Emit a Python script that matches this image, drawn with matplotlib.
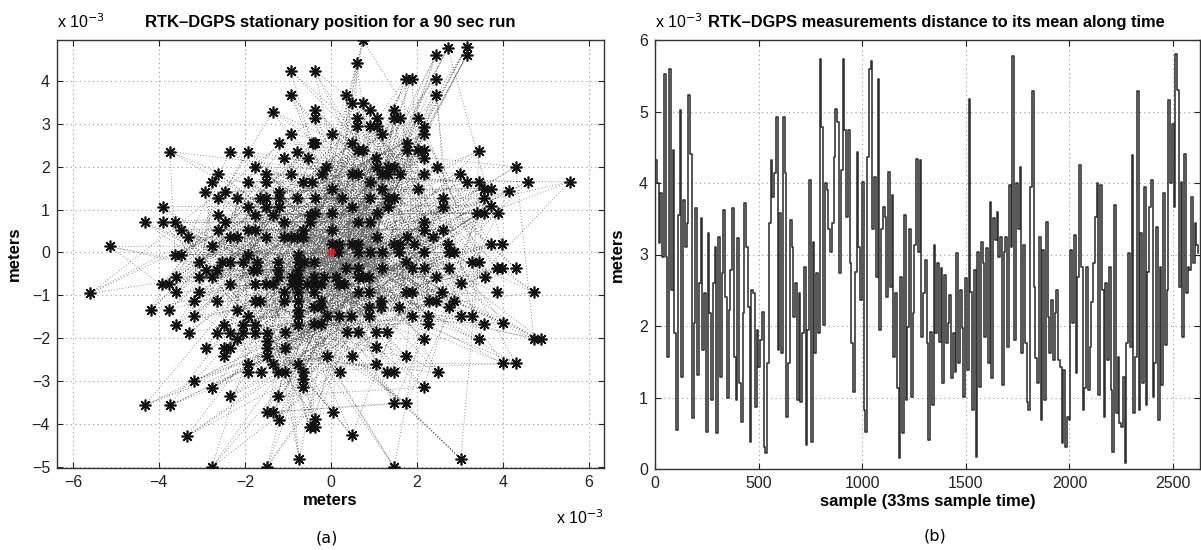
import numpy as np
import matplotlib
matplotlib.use("Agg")
import matplotlib.pyplot as plt
from math import gcd

plt.rcParams['font.family'] = ['Liberation Sans', 'DejaVu Sans']

# ---------------- data (a): stationary positions, in units of 1e-3 m ----------------
star_x = [
    -0.93, -0.37, -0.93, -0.37, -0.37, -1.35, -0.93, -1.21, -0.42, -3.74, -2.35, -1.93, -0.79, -1.09, -0.53,
    -1.77, -0.93, -1.51, -2.63, -2.77, -1.93, -1.51, -0.65, -0.44, -2.93, -2.47, -1.21, -2.63, -2.19, -1.65,
    -1.51, -1.21, -0.79, -0.37, -3.91, -1.93, -1.51, -1.21, -2.63, -1.77, -1.35, -0.49, -4.33, -3.91, -3.63,
    -2.47, -1.09, -3.49, -2.63, -1.93, -1.77, -0.65, -3.33, -2.35, -2.19, -1.51, -1.09, -0.93, -0.79, -0.65,
    -5.14,
    0.74, 2.72, 3.16, 3.16, 2.44, 0.60, 1.74, 1.88, 2.44, 2.44, 0.35, 0.49, 0.74, 0.91, 1.47,
    0.60, 1.07, 1.47, 1.60, 2.02, 0.60, 0.91, 1.07, 2.16, 2.16, 0.03, 1.19, -0.37, 0.49, 1.77,
    0.63, 0.74, 1.77, 2.02, 2.16, 3.44, 1.05, 2.16, -0.12, 1.07, 1.33, 1.47, 2.47, 4.30, -0.21,
    0.49, 0.63, 1.19, 1.33, 1.60, 2.16, 3.00, 3.16, 3.44, 4.58, 5.56, 0.91, 0.03, 1.19, 2.02,
    3.56, 3.72, 4.14, 0.26, 0.91, 1.33, 1.47, 2.60, 3.56, 2.60, 0.49, 1.33, 3.72, 3.40, 3.56,
    3.88, -0.37, 0.03, 1.07, 0.63, 0.91, 2.16, -0.49, 2.16, 2.60, 0.03, 2.37, 1.07, 1.77, 0.03,
    0.19, 0.49, 0.63, 1.47, 1.60, 1.93, 2.72, 3.72, 3.98,
    0.16, 0.63, 0.91, 1.19, 1.58, 2.16, 2.74, 2.86, 3.28, 3.44, 1.74, 3.86, 3.98, 4.30, 1.88,
    2.16, 2.74, 0.63, 1.19, 2.44, 3.02, 3.58, 3.86, 4.72, 1.74, 1.88, 2.58, 2.28, 2.44, 2.86,
    2.74, 1.58, 3.02, 3.28, 1.88, 2.26, 2.26, 3.56, 4.00, 2.16, 3.44, 4.72, 4.88, 1.30, 1.05,
    0.63, 0.37, 1.05, 1.74, 0.49, -0.09, 1.05, 0.21, 1.30, 1.47, 2.49, 4.00, 4.30, 2.16, 1.47,
    1.74, 0.05, -0.37, -0.49, -0.37, 0.49, 3.02, 1.47, -0.74,
    -0.63, -0.40, -0.40, -0.16, -0.56, -0.40, -0.23, 0.19, 0.30, -0.40, -0.23, -0.40, -0.23, -0.09, 0.19,
    0.47, -0.40, -0.23, 0.88, 0.88, 1.16, 1.16, 0.88, 0.63, 0.12, 0.35, 0.63, 0.74, 0.88,
    -5.60, -4.19, -3.77, -3.93, -3.77, -3.63, -3.49, -3.60, -3.60, -3.60, -3.30, -3.19, -3.19, -3.07, -3.07,
    -3.07, -2.91, -2.77, -2.77, -2.91, -2.65, -2.65, -2.65, -2.49, -2.49, -2.49, -2.35, -2.53, -2.35, -2.35,
    -2.35, -2.19, -2.19, -2.05, -2.05, -2.05, -1.93, -1.93, -1.81, -1.72, -1.72, -1.77, -1.51, -1.35, -1.77,
    -1.65, -1.77, -1.77, -1.93, -1.93, -1.63, -1.49, -1.49, -1.49, -1.49, -1.35, -1.23, -1.23, -1.49, -1.35,
    -1.21, -1.07, -1.07, -1.23, -1.23, -1.23, -1.09, -1.09, -0.91, -0.91, -0.77, -0.77, -0.77, -0.77, -0.77,
    -0.77, -0.77, -0.77, -0.77, -0.77, -0.77, -0.65, -0.65, -0.65, -2.77, -1.49, -3.35, -4.33, -3.74, -3.19,
    -2.77, -2.35, -1.07,
]
star_y = [
    4.23, 4.23, 3.67, 3.33, 3.14, 3.28, 2.77, 2.56, 2.56, 2.35, 2.35, 2.35, 2.35, 2.19, 2.19,
    2.00, 1.84, 1.84, 1.84, 1.65, 1.65, 1.65, 1.65, 1.65, 1.42, 1.42, 1.42, 1.26, 1.26, 1.26,
    1.26, 1.26, 1.26, 1.26, 1.07, 1.07, 1.07, 1.07, 0.88, 0.88, 0.88, 0.88, 0.70, 0.70, 0.70,
    0.70, 0.70, 0.53, 0.53, 0.53, 0.53, 0.53, 0.35, 0.35, 0.35, 0.35, 0.35, 0.35, 0.35, 0.35,
    0.14,
    4.95, 4.77, 4.79, 4.60, 4.60, 4.42, 4.05, 4.05, 4.05, 3.67, 3.67, 3.49, 3.49, 3.33, 3.33,
    3.14, 3.14, 3.14, 3.14, 3.14, 2.95, 2.95, 2.95, 2.93, 2.77, 2.77, 2.77, 2.56, 2.56, 2.56,
    2.38, 2.38, 2.38, 2.38, 2.38, 2.37, 2.19, 2.19, 2.00, 2.00, 2.00, 2.00, 2.00, 2.00, 1.84,
    1.84, 1.84, 1.84, 1.84, 1.84, 1.84, 1.84, 1.65, 1.65, 1.65, 1.65, 1.65, 1.49, 1.49, 1.49,
    1.49, 1.49, 1.44, 1.26, 1.26, 1.26, 1.26, 1.26, 1.26, 1.07, 1.07, 1.07, 1.09, 0.91, 0.91,
    0.91, 0.91, 0.91, 0.91, 0.72, 0.72, 0.72, 0.72, 0.53, 0.53, 0.53, 0.37, 0.37, 0.37, 0.19,
    0.19, 0.19, 0.19, 0.19, 0.19, 0.19, 0.19, 0.19, 0.19,
    0.00, 0.00, 0.00, 0.00, 0.00, 0.00, 0.00, 0.00, -0.21, -0.21, -0.21, -0.37, -0.37, -0.37, -0.37,
    -0.37, -0.37, -0.37, -0.37, -0.56, -0.72, -0.56, -0.93, -0.93, -0.93, -0.93, -0.93, -1.12, -1.12, -1.12,
    -1.28, -1.28, -1.49, -1.49, -1.49, -1.49, -1.67, -1.67, -1.65, -2.02, -2.02, -2.02, -2.02, -1.86, -1.86,
    -1.86, -1.86, -2.21, -2.42, -2.42, -2.42, -2.60, -2.79, -2.79, -2.79, -2.79, -2.58, -2.58, -3.14, -3.51,
    -3.51, -3.72, -3.88, -4.07, -4.07, -4.26, -4.81, -5.00, -4.81,
    -0.21, -0.21, -0.56, -0.56, -0.74, -0.74, -0.74, -0.74, -0.74, -0.93, -1.14, -1.28, -1.28, -1.49, -1.49,
    -1.49, -1.67, -1.67, -1.49, -1.28, -1.14, -1.28, -0.93, -0.93, -0.56, -0.37, -0.56, -0.56, -0.56,
    -0.95, -1.33, -1.33, -0.74, -0.74, -0.05, -0.05, -0.58, -0.93, -1.70, -1.88, -1.14, -1.49, -0.21, -0.58,
    -0.93, -0.40, 0.16, -0.58, -2.23, -0.40, -1.14, -1.88, -1.70, -2.23, -2.40, -2.23, -0.21, -0.21, -0.74,
    -1.88, -1.33, -2.02, -0.21, -1.88, -1.70, -0.05, -1.49, -0.40, -0.21, -0.40, -0.74, -0.74, -0.74, -1.14,
    -1.14, -1.70, -1.88, -2.60, -2.79, -2.79, -1.88, -2.05, -2.23, -2.40, -2.60, -2.79, -3.35, -3.72, -3.72,
    -3.90, -2.79, -2.23, -0.21, -0.40, -0.58, -0.93, -1.14, -0.58, -0.74, -0.05, -0.21, -0.40, -0.58, -0.74,
    -0.93, -1.14, -1.33, -1.49, -1.70, -2.60, -2.79, -2.95, -3.14, -5.00, -5.00, -4.28, -3.56, -3.56, -3.00,
    -3.16, -3.35, -1.86,
]
mean_x = [0.0]
mean_y = [0.0]

# ---------------- data (b): distance to the mean, in units of 1e-3 m ----------------
dist_part1 = [
    4.32, 4.00, 3.16, 3.86, 2.97, 5.53, 2.97, 1.57, 5.60, 2.50, 4.46, 1.90, 0.55, 3.55, 5.02, 1.29,
    3.76, 3.11, 3.44, 5.23, 4.41, 0.71, 2.04, 3.65, 1.31, 2.60, 3.51, 1.66, 2.46, 0.52, 3.30, 2.18,
    0.97, 2.60, 3.11, 0.50, 3.25, 1.29, 2.74, 3.62, 2.41, 0.99, 2.22, 2.78, 3.65, 1.57, 0.97, 3.23,
    1.20, 0.66, 2.18, 3.72, 3.11, 2.27, 0.38, 2.50, 2.46, 0.87, 1.94, 1.43, 1.80, 2.20, 0.31, 0.22,
    1.48, 3.44, 4.32, 3.81, 4.14, 4.93, 1.66,
]
dist_part2 = [
    3.58, 1.62, 4.93, 4.14, 0.73, 1.48, 3.48, 3.11, 2.13, 2.60, 0.97, 2.46, 0.94, 1.90, 2.83, 0.34,
    1.94, 4.04, 0.38, 3.18, 1.62, 2.74, 1.90, 5.74, 4.79, 2.01, 4.00, 3.90, 3.35, 3.04, 3.44, 4.37,
    5.04, 4.86, 2.74, 4.18, 5.74, 4.74, 3.53, 4.74, 2.88, 1.76, 1.08, 2.76, 4.44, 3.11, 2.36, 4.02,
    0.83, 0.52, 4.37, 5.60, 5.70, 3.35, 4.09, 2.69, 5.46, 1.94, 3.35, 3.67, 3.53, 2.41, 4.16, 2.55,
    3.83, 1.57, 2.46, 1.13, 0.15, 2.69, 0.50, 3.55, 0.97, 1.99, 3.35, 1.01, 2.18, 3.13, 4.34,
]
dist_part3 = [
    3.04, 4.32, 1.85, 2.46, 2.92, 1.76, 0.41, 1.92, 0.90, 3.13, 1.90, 2.88, 1.78, 2.81, 1.20, 2.71,
    1.76, 2.04, 2.43, 1.27, 1.90, 1.36, 3.02, 1.48, 2.50, 1.97, 1.01, 2.67, 1.38, 5.18, 2.48, 0.83,
    2.78, 0.17, 3.04, 1.15, 3.18, 2.88, 1.85, 3.09, 1.48, 3.74, 1.27, 3.51, 3.20, 3.60, 2.97, 3.25,
    1.17, 3.04, 3.25, 1.71, 3.97, 3.11, 5.77, 1.80, 4.00, 3.35, 4.23, 1.62, 3.13, 1.76, 0.94, 0.83,
    3.95, 5.28, 2.55, 1.55, 1.20, 3.25, 0.69, 3.06, 0.97, 3.46, 2.13, 1.62, 2.36, 1.52, 2.18,
]
dist_part4 = [
    2.50, 1.52, 1.43, 0.36, 1.38, 0.31, 0.73, 0.69, 3.06, 2.04, 3.27, 1.34, 2.69, 4.25, 2.83, 0.83,
    1.13, 2.83, 1.10, 1.71, 2.34, 2.88, 3.53, 4.00, 1.03, 3.97, 2.50, 0.73, 2.60, 1.52, 2.83, 1.10,
    0.24, 3.69, 0.78, 1.57, 0.64, 0.59, 1.29, 0.08, 1.76, 3.02, 1.71, 4.39, 0.78, 1.57, 5.28, 0.83,
    3.30, 1.20, 3.95, 0.90, 2.76, 3.67, 4.04, 1.01, 1.48, 3.39, 0.69, 2.83, 1.17, 3.86, 1.73, 2.50,
    5.16, 4.00, 4.83, 3.67, 5.81, 5.30, 2.55, 4.02, 1.85, 4.41, 2.46, 2.83, 2.78, 3.81, 2.88, 3.44,
    3.13, 3.02,
]
n_samples = 2630

# ---------------- figure ----------------
W, H = 1201, 550
fig = plt.figure(figsize=(W / 100, H / 100), dpi=100)
ax1 = fig.add_axes([57 / W, 1 - 468 / H, 547 / W, 428 / H])
ax2 = fig.add_axes([655 / W, 1 - 469 / H, 545 / W, 429 / H])

GRID = dict(color='#9a9a9a', linestyle=(0, (1, 3)), linewidth=0.8)
FS = 12

def style(ax):
    for s in ax.spines.values():
        s.set_color('#333333')
        s.set_linewidth(1.0)
    ax.tick_params(direction='in', top=True, right=True, length=4, width=0.8,
                   labelsize=11.5, colors='#222222', pad=5)
    ax.grid(True, **GRID)
    ax.set_axisbelow(True)

# ----- (a) -----
sx = np.array(star_x)
sy = np.array(star_y)
n = len(sx)
order = []
for stride in (97, 173):
    s = stride
    while gcd(s, n) != 1:
        s += 1
    order.extend(list((np.arange(n) * s) % n))
order = np.array(order)
ax1.plot(sx[order], sy[order], linestyle=(0, (1, 2.5)), color='#3a3a3a',
         linewidth=0.6, alpha=0.75, zorder=2)
ax1.plot(sx, sy, linestyle='none', marker=(8, 2, 0), markersize=8.5,
         markeredgewidth=1.2, color='#111111', zorder=3)
ax1.plot(mean_x, mean_y, linestyle='none', marker=(8, 2, 0), markersize=6,
         markeredgewidth=1.0, color='#cc2222', zorder=4)
ax1.set_xlim(-6.37, 6.35)
ax1.set_ylim(-5.02, 4.95)
ax1.set_xticks(np.arange(-6, 7, 2))
ax1.set_yticks(np.arange(-5, 5, 1))
ax1.set_xticklabels([f"{v:d}".replace('-', '\u2212') for v in range(-6, 7, 2)])
ax1.set_yticklabels([f"{v:d}".replace('-', '\u2212') for v in range(-5, 5, 1)])
style(ax1)
ax1.set_title('RTK\u2013DGPS stationary position for a 90 sec run', fontsize=FS,
              fontweight='bold', pad=9)
ax1.set_xlabel('meters', fontsize=FS, fontweight='bold', labelpad=2)
ax1.set_ylabel('meters', fontsize=FS, fontweight='bold', labelpad=7)
ax1.text(0.0, 1.02, r'x 10$^{-3}$', transform=ax1.transAxes, fontsize=11.5,
         ha='left', va='bottom')
ax1.text(1.0, -0.095, r'x 10$^{-3}$', transform=ax1.transAxes, fontsize=11.5,
         ha='right', va='top')
fig.text(327 / W, 1 - 538 / H, '(a)', fontsize=11.5, ha='center', va='center',
         family=['DejaVu Sans'])

# ----- (b) -----
dist = np.array(dist_part1 + dist_part2 + dist_part3 + dist_part4)
samples = np.linspace(0, n_samples, len(dist) + 1)[:-1]
ax2.plot(samples, dist, drawstyle='steps-post', color='#303030', linewidth=1.15)
ax2.set_xlim(0, n_samples)
ax2.set_ylim(0, 6)
ax2.set_xticks(np.arange(0, 2600, 500))
ax2.set_yticks(np.arange(0, 7, 1))
style(ax2)
ax2.set_title('RTK\u2013DGPS measurements distance to its mean along time', fontsize=11.8,
              fontweight='bold', pad=9, x=0.517)
ax2.set_xlabel('sample (33ms sample time)', fontsize=FS, fontweight='bold', labelpad=2)
ax2.set_ylabel('meters', fontsize=FS, fontweight='bold', labelpad=10)
ax2.text(0.0, 1.02, r'x 10$^{-3}$', transform=ax2.transAxes, fontsize=11.5,
         ha='left', va='bottom')
fig.text(935 / W, 1 - 536 / H, '(b)', fontsize=11.5, ha='center', va='center',
         family=['DejaVu Sans'])

fig.savefig('out.png', dpi=100)
